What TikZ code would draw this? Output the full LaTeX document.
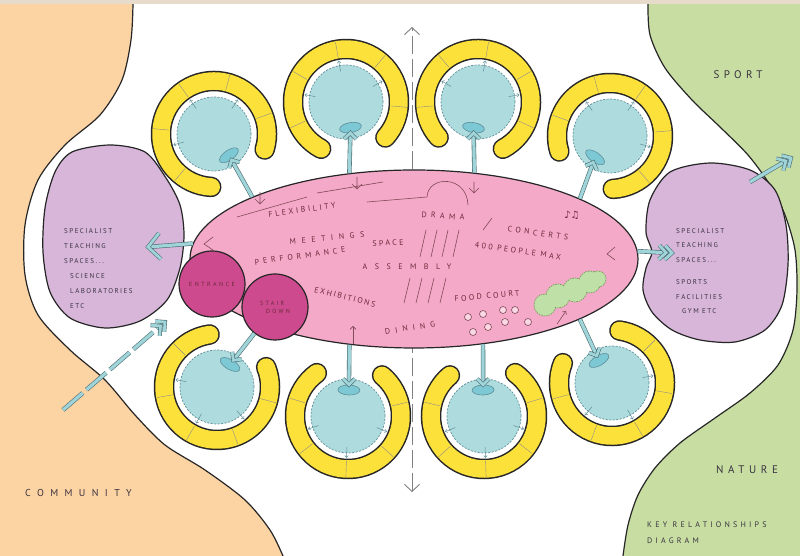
\documentclass[tikz,border=0pt]{standalone}
\usepackage{fontspec}
\newfontfamily\handfont{PT Sans}
\newfontfamily\notefont{DejaVu Sans}
\usetikzlibrary{arrows.meta, shapes.geometric, decorations.markings, calc}

\definecolor{paper}{HTML}{E7DCCB}
\definecolor{community}{HTML}{FCD3A3}
\definecolor{nature}{HTML}{C7DDA2}
\definecolor{specialist}{HTML}{D7B6DA}
\definecolor{hallpink}{HTML}{F4A9C8}
\definecolor{entrancepink}{HTML}{CC4A8D}
\definecolor{bandyellow}{HTML}{FDE13B}
\definecolor{roomblue}{HTML}{AEDCDE}
\definecolor{roomrim}{HTML}{5E8E98}
\definecolor{podblue}{HTML}{7CC8D4}
\definecolor{flowblue}{HTML}{9FD4D9}
\definecolor{flowrim}{HTML}{4F6F74}
\definecolor{inkhall}{HTML}{6B2A3A}
\definecolor{ink}{HTML}{3B3340}
\definecolor{bushgreen}{HTML}{BFE0A6}
\definecolor{bushrim}{HTML}{6E9E56}

% handwriting: size, baselineskip, letter spacing
\newcommand{\hw}[3]{\handfont\fontsize{#1}{#2}\selectfont\addfontfeatures{LetterSpace=#3}}

\tikzset{
	inkline/.style={draw=black!85, line width=1.2pt},
	hall/.style={ellipse, inkline, fill=hallpink, minimum width=448pt, minimum height=178pt, inner sep=0pt},
	door/.style={circle, inkline, fill=entrancepink, minimum size=66pt, inner sep=0pt, text=inkhall},
	roomcirc/.style={circle, draw=roomrim, dash pattern=on 2pt off 1.5pt, line width=0.7pt, fill=roomblue, minimum size=74pt, inner sep=0pt},
	pod/.style={ellipse, draw=roomrim, line width=0.6pt, fill=podblue, minimum width=22pt, minimum height=10pt, inner sep=0pt},
	bandrim/.style={line width=20.5pt, line cap=round, black!85},
	band/.style={line width=17.5pt, line cap=round, bandyellow},
	bandtick/.style={line width=0.4pt, black!45},
	podtick/.style={line width=0.5pt, roomrim, -{Straight Barb[length=2pt,width=3.5pt]}},
	chev/.style={solid, draw=flowrim, line width=0.6pt, double=flowblue, double distance=2.8pt, line join=miter},
	flow/.style={chev, double distance=3.2pt, postaction={decorate, decoration={markings,
		mark=at position 1 with {\draw[chev] (-6,6) -- (0,0) -- (-6,-6);}}}},
	flowtwo/.style={chev, double distance=3.2pt, postaction={decorate, decoration={markings,
		mark=at position 1 with {\draw[chev] (-7,7) -- (0,0) -- (-7,-7); \draw[chev] (-13,7) -- (-6,0) -- (-13,-7);}}}},
	flowbig/.style={chev, double distance=3.2pt, postaction={decorate, decoration={markings,
		mark=at position 1 with {\draw[chev] (-12,13) -- (0,0) -- (-12,-13);}}}},
	axisline/.style={draw=black!50, line width=0.9pt, dash pattern=on 18pt off 5pt,
		{Straight Barb[length=7pt,width=15pt]}-{Straight Barb[length=7pt,width=15pt]}},
	sketch/.style={line width=0.6pt, inkhall!85},
	bushline/.style={draw=bushrim, dash pattern=on 1.5pt off 1pt, line width=0.7pt, fill=bushgreen},
	txt/.style={inner sep=0pt, text=inkhall},
	note/.style={inner sep=0pt, text=ink, align=left},
}

% room: name, x, y, angle of the opening
\newcommand{\room}[4]{%
	\draw[bandrim] ([shift={(#4+38:53)}]#2,#3) arc[start angle=#4+38, end angle=#4+322, radius=53];
	\draw[band] ([shift={(#4+38:53)}]#2,#3) arc[start angle=#4+38, end angle=#4+322, radius=53];
	\foreach \d in {75,130,180,230,285}
		\draw[bandtick] ([shift={(#4+\d:45)}]#2,#3) -- ([shift={(#4+\d:61)}]#2,#3);
	\node[roomcirc] (#1) at (#2,#3) {};
	\foreach \d in {110,180,250}
		\draw[podtick] ([shift={(#4+\d:31)}]#2,#3) -- ([shift={(#4+\d:42)}]#2,#3);
	\node[pod, rotate=#4+90] (#1e) at ([shift={(#4:26)}]#2,#3) {};
}

\begin{document}
\begin{tikzpicture}[x=1pt, y=1pt]
	\useasboundingbox (0,0) rectangle (800,556);
	\fill[white] (0,0) rectangle (800,556);
	% surroundings
	\fill[community] (0,0) -- (0,552) -- plot[smooth] coordinates {(133,552) (131,516) (122,476) (100,441) (65,411) (38,376) (25,331) (25,281) (38,241) (70,206) (105,176) (135,141) (165,111) (205,86) (245,56) (270,26) (283,0)} -- cycle;
	\draw[inkline] plot[smooth] coordinates {(133,552) (131,516) (122,476) (100,441) (65,411) (38,376) (25,331) (25,281) (38,241) (70,206) (105,176) (135,141) (165,111) (205,86) (245,56) (270,26) (283,0)};
	\fill[nature] (800,0) -- (623,0) -- plot[smooth] coordinates {(623,0) (628,31) (638,61) (655,88) (680,113) (715,138) (750,163) (778,191) (793,226) (797,266) (795,306) (785,341) (770,371) (748,401) (720,429) (692,456) (665,488) (650,521) (648,552)} -- (800,552) -- cycle;
	\draw[inkline] plot[smooth] coordinates {(623,0) (628,31) (638,61) (655,88) (680,113) (715,138) (750,163) (778,191) (793,226) (797,266) (795,306) (785,341) (770,371) (748,401) (720,429) (692,456) (665,488) (650,521) (648,552)};
	\fill[paper] (0,552) rectangle (800,556);
	% axis
	\coordinate (axisbot) at (412,64);
	\coordinate (axistop) at (412,529);
	\draw[axisline] (axisbot) -- (axistop);
	% specialist spaces
	\draw[inkline, fill=specialist] plot[smooth cycle] coordinates {(72,404) (110,411) (145,404) (166,378) (180,351) (184,321) (180,288) (167,256) (140,235) (105,228) (70,238) (50,264) (43,304) (45,348) (55,384)};
	\draw[inkline, fill=specialist] plot[smooth cycle] coordinates {(670,384) (710,393) (750,386) (775,366) (786,331) (788,291) (782,251) (765,226) (735,214) (700,216) (672,226) (652,244) (643,266) (646,288) (652,304) (646,324) (650,356)};
	% rooms
	\room{r1}{214}{422}{-55}
	\room{r2}{346}{454}{-80}
	\room{r3}{478}{454}{-100}
	\room{r4}{610}{420}{-125}
	\room{r5}{217}{169}{60}
	\room{r6}{348}{140}{88}
	\room{r7}{484}{140}{92}
	\room{r8}{612}{173}{120}
	% hall
	\node[hall] (hall) at (414,297) {};
	\node[door, font=\hw{6}{6}{42}] (entrance) at (212,272) {ENTRANCE};
	\node[door, align=left, font=\hw{6}{8}{38}] (stair) at (275,249) {STAIR\\\hspace*{6pt}DOWN};
	% sketch marks in the hall
	\draw[sketch] (237,339) -- (307,359);
	\draw[sketch] (260,364) -- (260,352) (255,357) -- (260,352) -- (265,357);
	\draw[sketch] (317,363) -- (383,374);
	\draw[sketch] (357,379) -- (357,367) (352,372) -- (357,367) -- (362,372);
	\draw[sketch] (367,354) -- (427,359) .. controls (428,381) and (467,381) .. (468,351);
	\draw[sketch] (474,374) -- (474,363) (469,368) -- (474,363) -- (479,368);
	\draw[sketch] (483,326) -- (492,338);
	\foreach \k in {0,...,3}
		\draw[sketch] (420+11*\k,299) -- (426+11*\k,326);
	\foreach \k in {0,...,3}
		\draw[sketch] (404+12*\k,253) -- (410+12*\k,278);
	\draw[sketch] (213,319) -- (204,312) -- (213,306);
	\draw[sketch] (615,309) -- (607,302) -- (615,296);
	\draw[sketch, -{Straight Barb[length=3pt,width=6pt]}] (353,212) -- (353,230);
	\foreach \p in {(468,239),(483,242),(503,246),(515,246),(473,224),(488,229),(505,234),(528,234)}
		\draw[sketch, fill=white!55!hallpink] \p circle[radius=3.5];
	\foreach \bx/\by/\br in {545/251/11, 558/260/12, 575/266/12, 590/274/11, 598/277/8}
		\draw[bushline] (\bx,\by) circle[radius=\br];
	\foreach \bx/\by/\br in {545/251/11, 558/260/12, 575/266/12, 590/274/11, 598/277/8}
		\fill[bushgreen] (\bx,\by) circle[radius=\br-0.8];
	\draw[sketch, -{Straight Barb[length=2.5pt,width=5pt]}] (557,232) -- (566,245);
	\node[txt, font=\notefont\fontsize{10}{10}\selectfont] (notes) at (572,341) {♪♫};
	% hall texts
	\node[txt, rotate=8, font=\hw{8}{8}{32}] (flexibility) at (302,346) {FLEXIBILITY};
	\node[txt, rotate=5, font=\hw{8}{8}{69}] (meetings) at (327,318) {MEETINGS};
	\node[txt, rotate=3, font=\hw{8}{8}{30}] (space) at (388,313) {SPACE};
	\node[txt, rotate=8, font=\hw{8}{8}{48}] (performance) at (300,300) {PERFORMANCE};
	\node[txt, font=\hw{8}{8}{94}] (assembly) at (407,289) {ASSEMBLY};
	\node[txt, rotate=-4, font=\hw{8}{8}{55}] (drama) at (443,340) {DRAMA};
	\node[txt, rotate=-8, font=\hw{8}{8}{43}] (concerts) at (538,323) {CONCERTS};
	\node[txt, rotate=-8, font=\hw{8}{8}{30}] (capacity) at (518,305) {400 PEOPLE MAX};
	\node[txt, rotate=-14, font=\hw{8}{8}{21}] (exhibitions) at (345,259) {EXHIBITIONS};
	\node[txt, rotate=5, font=\hw{8}{8}{29}] (foodcourt) at (487,260) {FOOD COURT};
	\node[txt, rotate=9, font=\hw{8}{8}{63}] (dining) at (410,228) {DINING};
	% flows to the rooms
	\draw[flow] (hall.159) -- (r1e);
	\draw[flow] (hall.127) -- (r2e);
	\draw[flow] (hall.55) -- (r3e);
	\draw[flow] (hall.20) -- (r4e);
	\draw[flow] (stair) -- (r5e);
	\draw[flow] (hall.233) -- (r6e);
	\draw[flow] (hall.309) -- (r7e);
	\draw[flow] (hall.340) -- (r8e);
	% flows out
	\coordinate (labin) at (148,309);
	\coordinate (gymin) at (672,303);
	\coordinate (gymout) at (750,374);
	\coordinate (sportin) at (791,398);
	\coordinate (street) at (63,146);
	\coordinate (doorway) at (165,234);
	\draw[flowbig] (hall.176) -- (labin);
	\draw[flowtwo] (hall.2) -- (gymin);
	\draw[flowtwo] (gymout) -- (sportin);
	\draw[flowtwo, dash pattern=on 26pt off 5pt] (street) -- (doorway);
	% outside texts
	\node[note, anchor=north west, font=\hw{7}{15}{21}] (labs) at (64,328) {SPECIALIST\\TEACHING\\SPACES...\\\hspace*{6pt}SCIENCE\\\hspace*{6pt}LABORATORIES\\\hspace*{6pt}ETC};
	\node[note, anchor=north west, font=\hw{7}{14.5}{21}] (gym) at (676,328) {SPECIALIST\\TEACHING\\SPACES...\\[8pt]SPORTS\\FACILITIES\\\hspace*{6pt}GYM ETC};
	\node[note, font=\hw{11}{11}{40}] (sport) at (738,481) {SPORT};
	\node[note, font=\hw{11}{11}{42}] (nature) at (747,86) {NATURE};
	\node[note, anchor=west, font=\hw{10}{10}{64}] (community) at (25,63) {COMMUNITY};
	\node[note, anchor=north west, font=\hw{8}{16}{40}] (caption) at (647,34) {KEY RELATIONSHIPS\\DIAGRAM};
\end{tikzpicture}
\end{document}
